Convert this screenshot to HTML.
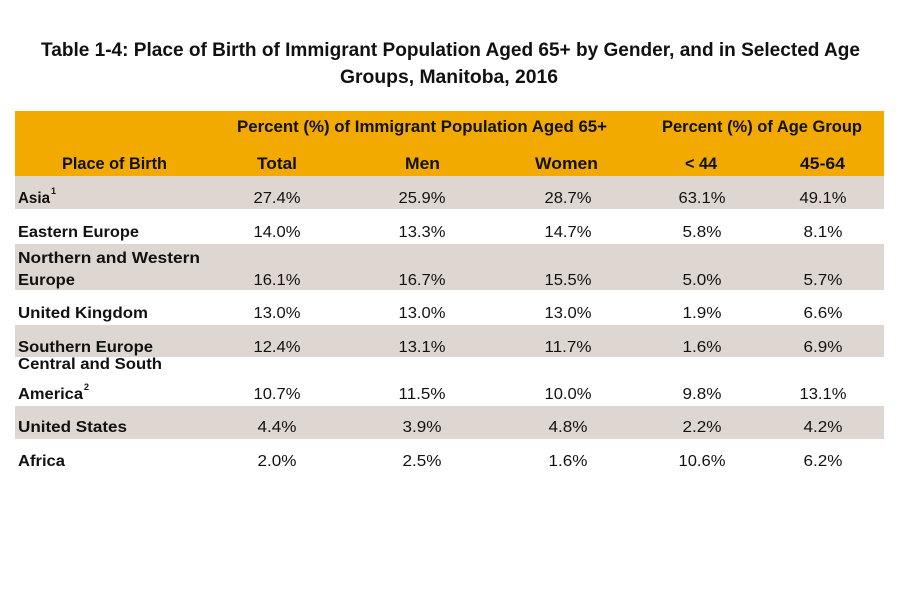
<!DOCTYPE html>
<html><head><meta charset="utf-8"><style>
html,body{margin:0;padding:0;background:#fff;}
svg{display:block;}
text{font-family:"Liberation Sans",sans-serif;fill:#111;}
.t{font-weight:bold;font-size:19px;}
.h{font-weight:bold;font-size:16.5px;}
.l{font-weight:bold;font-size:15.5px;}
.v{font-size:15.5px;text-anchor:middle;}
.s{font-weight:bold;font-size:9px;}
</style></head><body>
<svg width="900" height="600" viewBox="0 0 900 600" xmlns="http://www.w3.org/2000/svg">
<rect x="0" y="0" width="900" height="600" fill="#fff"/>
<text class="t" x="41" y="56" textLength="819" lengthAdjust="spacingAndGlyphs">Table 1-4: Place of Birth of Immigrant Population Aged 65+ by Gender, and in Selected Age</text>
<text class="t" x="340" y="83" textLength="218" lengthAdjust="spacingAndGlyphs">Groups, Manitoba, 2016</text>

<rect x="15" y="111" width="869" height="65" fill="#F3AA00"/>
<rect x="15" y="176" width="869" height="33" fill="#DED6D0"/>
<rect x="15" y="244" width="869" height="46" fill="#DED6D0"/>
<rect x="15" y="325" width="869" height="32" fill="#DED6D0"/>
<rect x="15" y="406" width="869" height="33" fill="#DED6D0"/>

<text class="h" x="237" y="132" textLength="370" lengthAdjust="spacingAndGlyphs">Percent (%) of Immigrant Population Aged 65+</text>
<text class="h" x="662" y="132" textLength="200" lengthAdjust="spacingAndGlyphs">Percent (%) of Age Group</text>
<text class="h" x="62" y="169" textLength="105" lengthAdjust="spacingAndGlyphs">Place of Birth</text>
<text class="h" x="257" y="169" textLength="40" lengthAdjust="spacingAndGlyphs">Total</text>
<text class="h" x="405" y="169" textLength="35" lengthAdjust="spacingAndGlyphs">Men</text>
<text class="h" x="535" y="169" textLength="63" lengthAdjust="spacingAndGlyphs">Women</text>
<text class="h" x="685" y="169" textLength="32" lengthAdjust="spacingAndGlyphs">&lt; 44</text>
<text class="h" x="800" y="169" textLength="45" lengthAdjust="spacingAndGlyphs">45-64</text>

<!-- Row labels -->
<text class="l" x="18" y="203" textLength="32" lengthAdjust="spacingAndGlyphs">Asia</text>
<text class="s" x="51" y="194">1</text>
<text class="l" x="18" y="237" textLength="121" lengthAdjust="spacingAndGlyphs">Eastern Europe</text>
<text class="l" x="18" y="263" textLength="182" lengthAdjust="spacingAndGlyphs">Northern and Western</text>
<text class="l" x="18" y="285" textLength="57" lengthAdjust="spacingAndGlyphs">Europe</text>
<text class="l" x="18" y="318" textLength="130" lengthAdjust="spacingAndGlyphs">United Kingdom</text>
<text class="l" x="18" y="352" textLength="135" lengthAdjust="spacingAndGlyphs">Southern Europe</text>
<text class="l" x="18" y="369" textLength="144" lengthAdjust="spacingAndGlyphs">Central and South</text>
<text class="l" x="18" y="399" textLength="65" lengthAdjust="spacingAndGlyphs">America</text>
<text class="s" x="84" y="390">2</text>
<text class="l" x="18" y="432" textLength="109" lengthAdjust="spacingAndGlyphs">United States</text>
<text class="l" x="18" y="466" textLength="47" lengthAdjust="spacingAndGlyphs">Africa</text>

<!-- Values -->
<g>
<text class="v" x="277" y="203" textLength="47" lengthAdjust="spacingAndGlyphs">27.4%</text>
<text class="v" x="422" y="203" textLength="47" lengthAdjust="spacingAndGlyphs">25.9%</text>
<text class="v" x="568" y="203" textLength="47" lengthAdjust="spacingAndGlyphs">28.7%</text>
<text class="v" x="702" y="203" textLength="47" lengthAdjust="spacingAndGlyphs">63.1%</text>
<text class="v" x="823" y="203" textLength="47" lengthAdjust="spacingAndGlyphs">49.1%</text>

<text class="v" x="277" y="237" textLength="47" lengthAdjust="spacingAndGlyphs">14.0%</text>
<text class="v" x="422" y="237" textLength="47" lengthAdjust="spacingAndGlyphs">13.3%</text>
<text class="v" x="568" y="237" textLength="47" lengthAdjust="spacingAndGlyphs">14.7%</text>
<text class="v" x="702" y="237" textLength="39" lengthAdjust="spacingAndGlyphs">5.8%</text>
<text class="v" x="823" y="237" textLength="39" lengthAdjust="spacingAndGlyphs">8.1%</text>

<text class="v" x="277" y="285" textLength="47" lengthAdjust="spacingAndGlyphs">16.1%</text>
<text class="v" x="422" y="285" textLength="47" lengthAdjust="spacingAndGlyphs">16.7%</text>
<text class="v" x="568" y="285" textLength="47" lengthAdjust="spacingAndGlyphs">15.5%</text>
<text class="v" x="702" y="285" textLength="39" lengthAdjust="spacingAndGlyphs">5.0%</text>
<text class="v" x="823" y="285" textLength="39" lengthAdjust="spacingAndGlyphs">5.7%</text>

<text class="v" x="277" y="318" textLength="47" lengthAdjust="spacingAndGlyphs">13.0%</text>
<text class="v" x="422" y="318" textLength="47" lengthAdjust="spacingAndGlyphs">13.0%</text>
<text class="v" x="568" y="318" textLength="47" lengthAdjust="spacingAndGlyphs">13.0%</text>
<text class="v" x="702" y="318" textLength="39" lengthAdjust="spacingAndGlyphs">1.9%</text>
<text class="v" x="823" y="318" textLength="39" lengthAdjust="spacingAndGlyphs">6.6%</text>

<text class="v" x="277" y="352" textLength="47" lengthAdjust="spacingAndGlyphs">12.4%</text>
<text class="v" x="422" y="352" textLength="47" lengthAdjust="spacingAndGlyphs">13.1%</text>
<text class="v" x="568" y="352" textLength="47" lengthAdjust="spacingAndGlyphs">11.7%</text>
<text class="v" x="702" y="352" textLength="39" lengthAdjust="spacingAndGlyphs">1.6%</text>
<text class="v" x="823" y="352" textLength="39" lengthAdjust="spacingAndGlyphs">6.9%</text>

<text class="v" x="277" y="399" textLength="47" lengthAdjust="spacingAndGlyphs">10.7%</text>
<text class="v" x="422" y="399" textLength="47" lengthAdjust="spacingAndGlyphs">11.5%</text>
<text class="v" x="568" y="399" textLength="47" lengthAdjust="spacingAndGlyphs">10.0%</text>
<text class="v" x="702" y="399" textLength="39" lengthAdjust="spacingAndGlyphs">9.8%</text>
<text class="v" x="823" y="399" textLength="47" lengthAdjust="spacingAndGlyphs">13.1%</text>

<text class="v" x="277" y="432" textLength="39" lengthAdjust="spacingAndGlyphs">4.4%</text>
<text class="v" x="422" y="432" textLength="39" lengthAdjust="spacingAndGlyphs">3.9%</text>
<text class="v" x="568" y="432" textLength="39" lengthAdjust="spacingAndGlyphs">4.8%</text>
<text class="v" x="702" y="432" textLength="39" lengthAdjust="spacingAndGlyphs">2.2%</text>
<text class="v" x="823" y="432" textLength="39" lengthAdjust="spacingAndGlyphs">4.2%</text>

<text class="v" x="277" y="466" textLength="39" lengthAdjust="spacingAndGlyphs">2.0%</text>
<text class="v" x="422" y="466" textLength="39" lengthAdjust="spacingAndGlyphs">2.5%</text>
<text class="v" x="568" y="466" textLength="39" lengthAdjust="spacingAndGlyphs">1.6%</text>
<text class="v" x="702" y="466" textLength="47" lengthAdjust="spacingAndGlyphs">10.6%</text>
<text class="v" x="823" y="466" textLength="39" lengthAdjust="spacingAndGlyphs">6.2%</text>
</g>
</svg>
</body></html>
